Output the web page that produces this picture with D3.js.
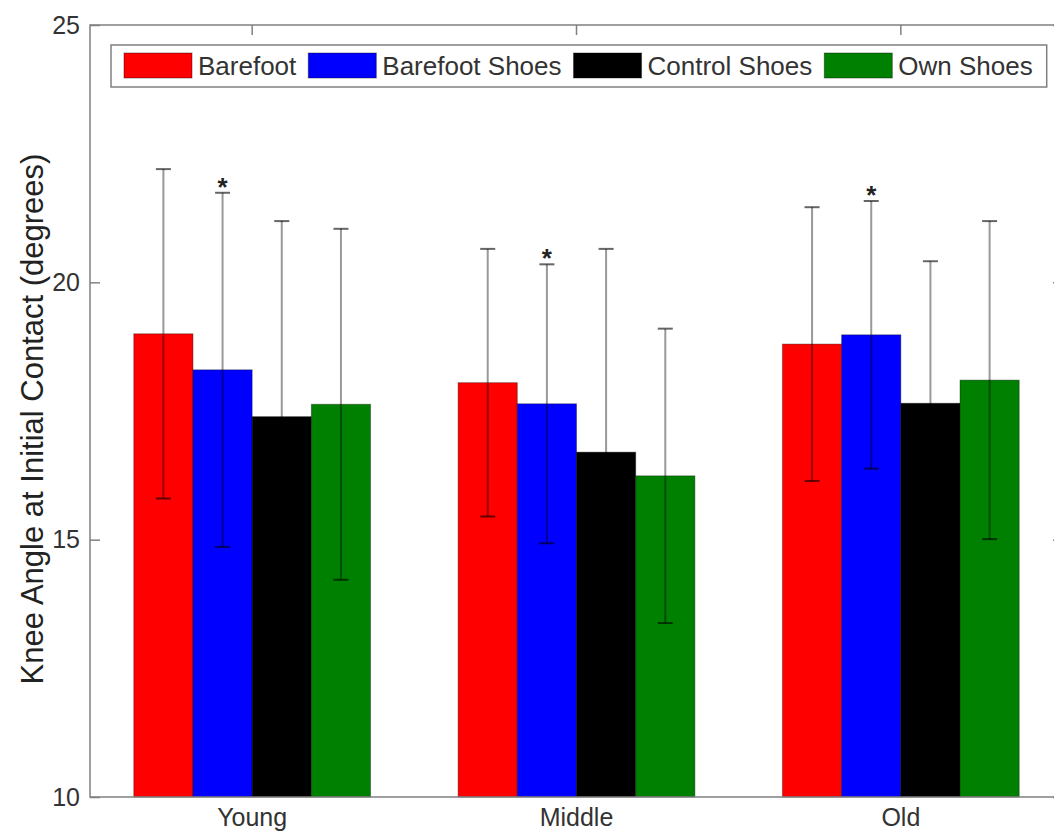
<!DOCTYPE html>
<html>
<head>
<meta charset="utf-8">
<script src="https://cdn.jsdelivr.net/npm/d3@7"></script>
<style>
  body { margin: 0; background: #fff; }
  svg { font-family: "Liberation Sans", Arial, sans-serif; }
</style>
</head>
<body>
<div class="chart"></div>
<script>
// data
var groups = ['Young', 'Middle', 'Old'];
var series = ['Barefoot', 'Barefoot Shoes', 'Control Shoes', 'Own Shoes'];
var colors = ['#ff0000', '#0000ff', '#000000', '#008000'];
var meanYoung = [19.0, 18.3, 17.39, 17.63];
var meanMiddle = [18.05, 17.64, 16.7, 16.24];
var meanOld = [18.8, 18.98, 17.65, 18.1];
var sdYoung = [3.2, 3.44, 3.8, 3.41];
var sdMiddle = [2.6, 2.71, 3.95, 2.86];
var sdOld = [2.66, 2.6, 2.76, 3.09];
// which bars carry an asterisk
var starred = [[1], [1], [1]];
var yTicks = [10, 15, 20, 25];

var fullWidth = 1054;
var fullHeight = 832;
var plot = { left: 90, top: 25, right: 1063, bottom: 797 };

var means = [meanYoung, meanMiddle, meanOld];
var sds = [sdYoung, sdMiddle, sdOld];

var svg = d3.select('.chart')
  .append('svg')
  .attr('width', fullWidth)
  .attr('height', fullHeight);

var x0 = d3.scaleBand()
  .domain(groups)
  .range([plot.left, plot.right])
  .paddingInner(0.27)
  .paddingOuter(0.135);

var x1 = d3.scaleBand()
  .domain(series)
  .range([0, x0.bandwidth()]);

var yScale = d3.scaleLinear()
  .domain([10, 25])
  .range([plot.bottom, plot.top]);

var rows = [];
groups.forEach((g, gi) => {
  series.forEach((s, si) => {
    rows.push({
      group: g, series: s, color: colors[si],
      mean: means[gi][si], sd: sds[gi][si],
      star: starred[gi].indexOf(si) >= 0
    });
  });
});

// bars
svg.selectAll('.bar')
  .data(rows)
  .enter()
  .append('rect')
  .attr('class', 'bar')
  .attr('x', d => x0(d.group) + x1(d.series))
  .attr('width', x1.bandwidth())
  .attr('y', d => yScale(d.mean))
  .attr('height', d => yScale(10) - yScale(d.mean))
  .style('fill', d => d.color)
  .style('stroke', '#000')
  .style('stroke-opacity', 0.35)
  .style('stroke-width', 1);

// error bars
var cx = d => x0(d.group) + x1(d.series) + x1.bandwidth() / 2;
var err = svg.selectAll('.err')
  .data(rows)
  .enter()
  .append('g')
  .attr('class', 'err');

err.append('line')
  .attr('x1', cx).attr('x2', cx)
  .attr('y1', d => yScale(d.mean + d.sd))
  .attr('y2', d => yScale(d.mean - d.sd))
  .style('stroke', '#000')
  .style('stroke-opacity', 0.4)
  .style('stroke-width', 2);

[1, -1].forEach(sign => {
  err.append('line')
    .attr('x1', d => cx(d) - 7.5).attr('x2', d => cx(d) + 7.5)
    .attr('y1', d => yScale(d.mean + sign * d.sd))
    .attr('y2', d => yScale(d.mean + sign * d.sd))
    .style('stroke', '#000')
    .style('stroke-opacity', 0.6)
    .style('stroke-width', 2);
});

svg.selectAll('.star')
  .data(rows.filter(d => d.star))
  .enter()
  .append('text')
  .attr('class', 'star')
  .attr('x', cx)
  .attr('y', d => yScale(d.mean + d.sd) + 3)
  .style('text-anchor', 'middle')
  .style('font-size', '26px')
  .style('font-weight', 'bold')
  .style('fill', '#222')
  .text('*');

// axes box
var axisColor = '#808080';
svg.append('rect')
  .attr('x', plot.left).attr('y', plot.top)
  .attr('width', plot.right - plot.left)
  .attr('height', plot.bottom - plot.top)
  .style('fill', 'none')
  .style('stroke', axisColor)
  .style('stroke-width', 1.5);

var yLeft = svg.append('g')
  .attr('transform', `translate(${plot.left},0)`)
  .call(d3.axisLeft(yScale).tickValues(yTicks).tickSize(-10).tickPadding(10));
var yRight = svg.append('g')
  .attr('transform', `translate(${plot.right},0)`)
  .call(d3.axisRight(yScale).tickValues(yTicks).tickSize(-10).tickFormat(''));
var xTop = svg.append('g')
  .attr('transform', `translate(0,${plot.top})`)
  .call(d3.axisTop(x0).tickSize(-10).tickFormat(''));
var xBottom = svg.append('g')
  .attr('transform', `translate(0,${plot.bottom})`)
  .call(d3.axisBottom(x0).tickSize(0).tickPadding(11));

[yLeft, yRight, xTop, xBottom].forEach(a => {
  a.select('.domain').remove();
  a.selectAll('line').style('stroke', axisColor).style('stroke-width', 1.5);
  a.selectAll('text')
    .style('font-family', '"Liberation Sans", Arial, sans-serif')
    .style('font-size', '25px')
    .style('fill', '#333');
});
xBottom.selectAll('.tick line').remove();
xBottom.raise();

svg.append('text')
  .attr('transform', `translate(43,419) rotate(-90)`)
  .style('text-anchor', 'middle')
  .style('font-size', '31px')
  .style('fill', '#222')
  .text('Knee Angle at Initial Contact (degrees)');

// legend
var legend = svg.append('g').attr('class', 'legend');
var legBox = legend.append('rect')
  .attr('x', 111).attr('y', 45)
  .attr('height', 42)
  .style('fill', '#fff')
  .style('stroke', axisColor)
  .style('stroke-width', 1.5);

var lx = 124;
series.forEach((s, i) => {
  legend.append('rect')
    .attr('x', lx).attr('y', 53)
    .attr('width', 68).attr('height', 25)
    .style('fill', colors[i])
    .style('stroke', '#000')
    .style('stroke-opacity', 0.4);
  var t = legend.append('text')
    .attr('x', lx + 74).attr('y', 75)
    .style('font-size', '26px')
    .style('fill', '#333')
    .text(s);
  lx += 74 + t.node().getComputedTextLength() + 12;
});
legBox.attr('width', lx - 111 + 2);
</script>
</body>
</html>
